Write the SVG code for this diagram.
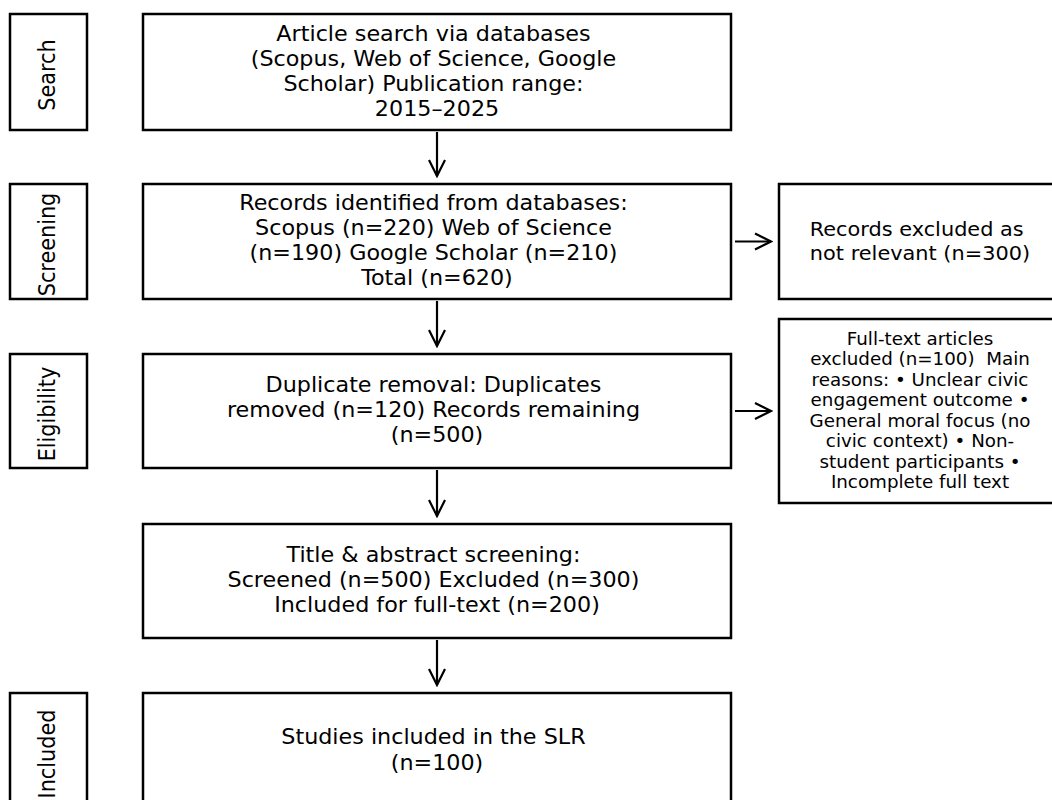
<svg xmlns="http://www.w3.org/2000/svg" width="1052" height="800" viewBox="0 0 1052 800">
<defs>
<style>
.box{fill:#fff;stroke:#000;stroke-width:2.5}
.t{font-family:"DejaVu Sans",sans-serif;fill:#000;text-anchor:middle}
.m{font-size:20.8px}
.r1{font-size:19.5px}
.r2{font-size:17.1px;white-space:pre}
.lab{font-size:20.8px}
.conn{stroke:#000;stroke-width:2.2;fill:none}
</style>
<marker id="ah" viewBox="-18 -10 20 20" refX="0" refY="0" markerWidth="20" markerHeight="20" markerUnits="userSpaceOnUse" orient="auto">
<path d="M-16,-8 L0,0 L-16,8" fill="none" stroke="#000" stroke-width="2.2" stroke-linejoin="miter"/>
</marker>
</defs>
<rect width="1052" height="800" fill="#fff"/>

<g id="label-search">
<rect class="box" x="10" y="14" width="77" height="116"/>
<text class="t lab" transform="matrix(0 -1 1.07 0 55 75)" x="0" y="0">Search</text>
</g>
<g id="label-screening">
<rect class="box" x="10" y="184" width="77" height="115"/>
<text class="t lab" transform="matrix(0 -1 1.07 0 55 244.5)" x="0" y="0">Screening</text>
</g>
<g id="label-eligibility">
<rect class="box" x="10" y="354" width="77" height="114"/>
<text class="t lab" transform="matrix(0 -1 1.07 0 55 414)" x="0" y="0">Eligibility</text>
</g>
<g id="label-included">
<rect class="box" x="10" y="693" width="77" height="116"/>
<text class="t lab" transform="matrix(0 -1 1.07 0 55 754)" x="0" y="0">Included</text>
</g>

<g id="node-search">
<rect class="box" x="143" y="14" width="588" height="116"/>
<text class="t m" transform="matrix(1.07 0 0 1 437 0)">
<tspan x="0" y="41.5">Article search via databases</tspan>
<tspan x="0" y="66.5">(Scopus, Web of Science, Google</tspan>
<tspan x="0" y="91.5">Scholar) Publication range:</tspan>
<tspan x="0" y="116.5">2015–2025</tspan>
</text>
</g>
<g id="node-identified">
<rect class="box" x="143" y="184" width="588" height="115"/>
<text class="t m" transform="matrix(1.07 0 0 1 437 0)">
<tspan x="0" y="210.5">Records identified from databases:</tspan>
<tspan x="0" y="235.5">Scopus (n=220) Web of Science</tspan>
<tspan x="0" y="260.5">(n=190) Google Scholar (n=210)</tspan>
<tspan x="0" y="285.5">Total (n=620)</tspan>
</text>
</g>
<g id="node-duplicates">
<rect class="box" x="143" y="354" width="588" height="114"/>
<text class="t m" transform="matrix(1.07 0 0 1 437 0)">
<tspan x="0" y="392.5">Duplicate removal: Duplicates</tspan>
<tspan x="0" y="417.5">removed (n=120) Records remaining</tspan>
<tspan x="0" y="442.5">(n=500)</tspan>
</text>
</g>
<g id="node-screening">
<rect class="box" x="143" y="524" width="588" height="114"/>
<text class="t m" transform="matrix(1.07 0 0 1 437 0)">
<tspan x="0" y="562.5">Title &amp; abstract screening:</tspan>
<tspan x="0" y="587.5">Screened (n=500) Excluded (n=300)</tspan>
<tspan x="0" y="612.5">Included for full-text (n=200)</tspan>
</text>
</g>
<g id="node-included">
<rect class="box" x="143" y="693" width="588" height="116"/>
<text class="t m" transform="matrix(1.07 0 0 1 437 0)">
<tspan x="0" y="744.5">Studies included in the SLR</tspan>
<tspan x="0" y="770">(n=100)</tspan>
</text>
</g>
<g id="node-excluded-relevance">
<rect class="box" x="779" y="184" width="282" height="115"/>
<text class="t r1" transform="matrix(1.07 0 0 1 920 0)">
<tspan x="0" y="236.5">Records excluded as</tspan>
<tspan x="0" y="260">not relevant (n=300)</tspan>
</text>
</g>
<g id="node-excluded-fulltext">
<rect class="box" x="779" y="319" width="282" height="184"/>
<text class="t r2" xml:space="preserve" transform="matrix(1.07 0 0 1 920 0)"><tspan x="0" y="344.75">Full-text articles</tspan><tspan x="0" y="365.25">excluded (n=100)  Main</tspan><tspan x="0" y="385.75">reasons: • Unclear civic</tspan><tspan x="0" y="406.25">engagement outcome •</tspan><tspan x="0" y="426.75">General moral focus (no</tspan><tspan x="0" y="447.25">civic context) • Non-</tspan><tspan x="0" y="467.75">student participants •</tspan><tspan x="0" y="488.25">Incomplete full text</tspan></text>
</g>

<g id="connectors">
<line class="conn" x1="437" y1="132" x2="437" y2="176" marker-end="url(#ah)"/>
<line class="conn" x1="437" y1="301" x2="437" y2="346" marker-end="url(#ah)"/>
<line class="conn" x1="437" y1="470" x2="437" y2="516" marker-end="url(#ah)"/>
<line class="conn" x1="437" y1="640" x2="437" y2="685" marker-end="url(#ah)"/>
<line class="conn" x1="735" y1="241.5" x2="771" y2="241.5" marker-end="url(#ah)"/>
<line class="conn" x1="735" y1="411" x2="771" y2="411" marker-end="url(#ah)"/>
</g>
</svg>
